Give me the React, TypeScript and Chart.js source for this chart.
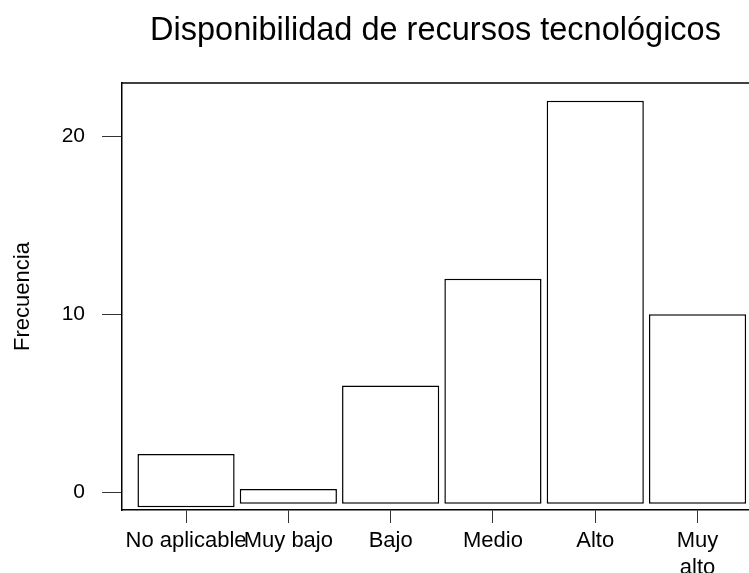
import React, { useEffect, useRef } from "react";
import { Chart, registerables } from "chart.js";

Chart.register(...registerables);

const categories: (string | string[])[] = ["No aplicable", "Muy bajo", "Bajo", "Medio", "Alto", ["Muy", "alto"]];
const frecuencia = [2.15, 0.18, 6, 12, 22, 10];
const baseValues = [-0.85, -0.65, -0.65, -0.65, -0.65, -0.65];
const yTicks = [0, 10, 20];
const titleText = "Disponibilidad de recursos tecnológicos";
const yTitle = "Frecuencia";

const FONT = "'Liberation Sans', Arial, sans-serif";

const topBorder = {
  id: "topBorder",
  afterDraw(chart: any) {
    const { ctx, chartArea } = chart;
    ctx.save();
    ctx.strokeStyle = "#000";
    ctx.lineWidth = 1.5;
    ctx.beginPath();
    ctx.moveTo(chartArea.left, chartArea.top);
    ctx.lineTo(chartArea.right, chartArea.top);
    ctx.stroke();
    ctx.restore();
  },
};

export default function App() {
  const ref = useRef<HTMLCanvasElement>(null);
  useEffect(() => {
    if (!ref.current) return;
    const chart = new Chart(ref.current, {
      type: "bar",
      data: {
        datasets: [
          {
            data: frecuencia.map((v, i) => ({ x: i, y: [baseValues[i], v] })) as any,
            backgroundColor: "#ffffff",
            borderColor: "#000000",
            borderWidth: 1.5,
            borderSkipped: false,
            barPercentage: 0.95,
            categoryPercentage: 1,
          },
        ],
      },
      options: {
        animation: false,
        responsive: false,
        layout: { padding: 0 },
        plugins: {
          legend: { display: false },
          tooltip: { enabled: false },
          title: {
            display: true,
            text: titleText,
            fullSize: false,
            color: "#000",
            font: { family: FONT, size: 32.5, weight: "normal" },
            padding: { top: 12, bottom: 32 },
          },
        },
        scales: {
          x: {
            type: "linear",
            offset: false,
            min: -0.626,
            max: 5.503,
            afterBuildTicks: (s: any) => {
              s.ticks = categories.map((_, i) => ({ value: i }));
            },
            afterFit: (s: any) => {
              s.height = 63;
            },
            grid: { offset: false, drawOnChartArea: false, tickLength: 13, color: "#333", lineWidth: 1 },
            border: { display: true, color: "#000", width: 1.5 },
            ticks: {
              autoSkip: false,
              maxRotation: 0,
              minRotation: 0,
              padding: 5,
              color: "#000",
              font: { family: FONT, size: 22 },
              callback: (v: any) => categories[Math.round(Number(v))] as any,
            },
          },
          y: {
            type: "linear",
            min: -1,
            max: 23,
            afterBuildTicks: (s: any) => {
              s.ticks = yTicks.map((v) => ({ value: v }));
            },
            afterFit: (s: any) => {
              s.width = 122;
            },
            grid: { drawOnChartArea: false, tickLength: 20, color: "#333", lineWidth: 1 },
            border: { display: true, color: "#000", width: 1.5 },
            ticks: {
              padding: 17,
              color: "#000",
              font: { family: FONT, size: 21 },
            },
            title: {
              display: true,
              text: yTitle,
              color: "#000",
              font: { family: FONT, size: 22 },
              padding: { top: 10, bottom: 0 },
            },
          },
        },
      },
      plugins: [topBorder],
    });
    return () => chart.destroy();
  }, []);
  return (
    <div style={{ position: "absolute", left: 0, top: 0, width: 749, height: 573, background: "#fff" }}>
      <canvas ref={ref} width={749} height={573} />
    </div>
  );
}
